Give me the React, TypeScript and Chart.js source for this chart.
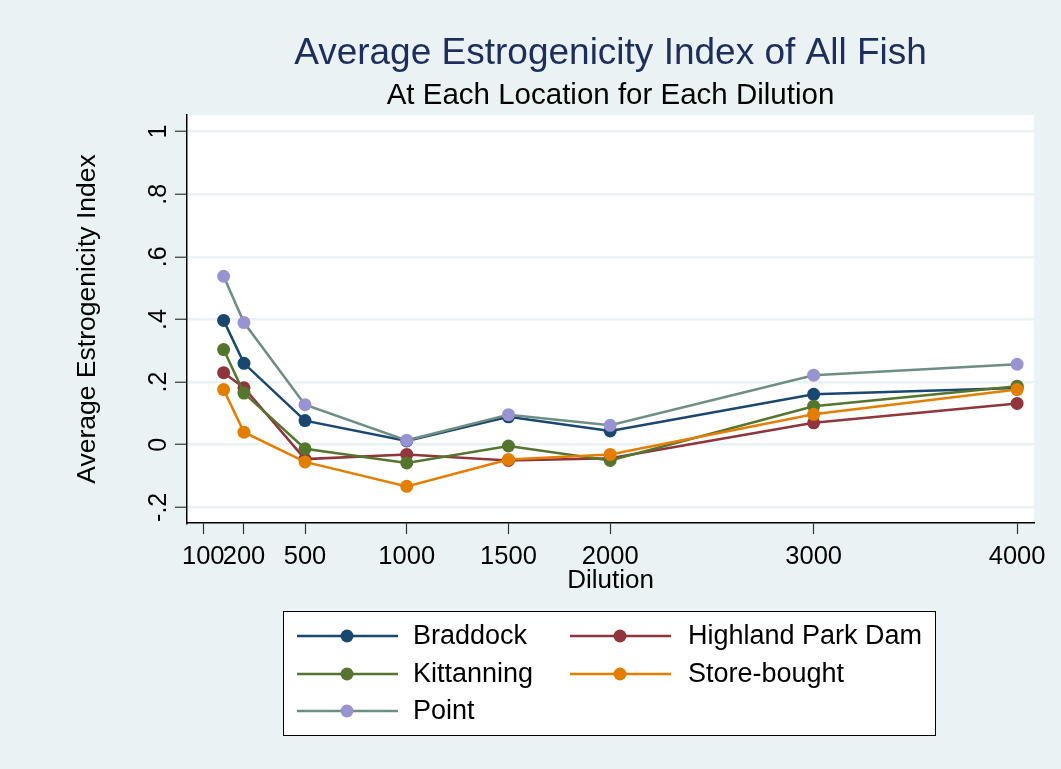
import { useEffect, useRef } from "react";
import { Chart, registerables, type Plugin } from "chart.js";

Chart.register(...registerables);

// dilutions where the fish were sampled
const DILUTIONS = [100, 200, 500, 1000, 1500, 2000, 3000, 4000];

const BRADDOCK = [0.397, 0.26, 0.077, 0.012, 0.089, 0.044, 0.161, 0.181];
const HIGHLAND_PARK_DAM = [0.23, 0.182, -0.046, -0.031, -0.05, -0.043, 0.07, 0.132];
const KITTANNING = [0.304, 0.165, -0.013, -0.058, -0.004, -0.05, 0.123, 0.187];
const STORE_BOUGHT = [0.176, 0.04, -0.055, -0.133, -0.047, -0.031, 0.097, 0.176];
const POINT = [0.538, 0.39, 0.128, 0.014, 0.096, 0.062, 0.222, 0.257];

// axis labels (Stata put the "100" label at 0)
const X_TICKS = [0, 200, 500, 1000, 1500, 2000, 3000, 4000];
const X_TICK_LABELS = ["100", "200", "500", "1000", "1500", "2000", "3000", "4000"];
const Y_TICKS = [-0.2, 0, 0.2, 0.4, 0.6, 0.8, 1];
const Y_TICK_LABELS = ["-.2", "0", ".2", ".4", ".6", ".8", "1"];

const SERIES = [
  { label: "Braddock", values: BRADDOCK, line: "#1a476f", marker: "#1a476f" },
  { label: "Highland Park Dam", values: HIGHLAND_PARK_DAM, line: "#90353b", marker: "#90353b" },
  { label: "Kittanning", values: KITTANNING, line: "#55752f", marker: "#55752f" },
  { label: "Store-bought", values: STORE_BOUGHT, line: "#e37e00", marker: "#e37e00" },
  { label: "Point", values: POINT, line: "#6e8e84", marker: "#9a93d2" },
];

const FONT = '"Liberation Sans", Arial, sans-serif';
const BG = "#eaf2f3";

const decorations: Plugin<"line"> = {
  id: "stataDecor",
  beforeDraw(chart) {
    const { ctx, chartArea: a } = chart;
    ctx.save();
    ctx.fillStyle = BG;
    ctx.fillRect(0, 0, chart.width, chart.height);
    ctx.fillStyle = "#fff";
    ctx.fillRect(a.left, a.top, a.right - a.left, a.bottom - a.top);
    ctx.restore();
  },
  afterDraw(chart) {
    const { ctx, chartArea: a } = chart;
    const cx = (a.left + a.right) / 2;
    const yScale = chart.scales.y;
    ctx.save();

    // titles
    ctx.textAlign = "center";
    ctx.textBaseline = "alphabetic";
    ctx.fillStyle = "#1e2d5c";
    ctx.font = `37px ${FONT}`;
    ctx.fillText("Average Estrogenicity Index of All Fish", cx, 64);
    ctx.fillStyle = "#000";
    ctx.font = `29.5px ${FONT}`;
    ctx.fillText("At Each Location for Each Dilution", cx, 104);

    // x title
    ctx.font = `26px ${FONT}`;
    ctx.fillText("Dilution", cx, 588);

    // y tick labels, rotated like Stata
    ctx.font = `25px ${FONT}`;
    Y_TICKS.forEach((v, i) => {
      const py = yScale.getPixelForValue(v);
      ctx.save();
      ctx.translate(166, py);
      ctx.rotate(-Math.PI / 2);
      ctx.fillText(Y_TICK_LABELS[i], 0, 0);
      ctx.restore();
    });

    // y title
    ctx.font = `26.5px ${FONT}`;
    ctx.save();
    ctx.translate(95, (a.top + a.bottom) / 2);
    ctx.rotate(-Math.PI / 2);
    ctx.fillText("Average Estrogenicity Index", 0, 0);
    ctx.restore();

    // legend, two columns
    ctx.fillStyle = "#fff";
    ctx.fillRect(283, 611, 652, 124);
    ctx.strokeStyle = "#000";
    ctx.lineWidth = 1;
    ctx.strokeRect(283.5, 611.5, 652, 124);
    const colX = [297, 570];
    const textX = [413, 688];
    const rowY = [636, 674, 711];
    ctx.font = `27px ${FONT}`;
    ctx.textAlign = "left";
    ctx.textBaseline = "middle";
    chart.data.datasets.forEach((ds, i) => {
      const col = i % 2;
      const row = Math.floor(i / 2);
      const y = rowY[row];
      ctx.strokeStyle = ds.borderColor as string;
      ctx.lineWidth = 2.5;
      ctx.beginPath();
      ctx.moveTo(colX[col], y);
      ctx.lineTo(colX[col] + 101, y);
      ctx.stroke();
      ctx.fillStyle = ds.pointBackgroundColor as string;
      ctx.beginPath();
      ctx.arc(colX[col] + 50, y, 6.5, 0, Math.PI * 2);
      ctx.fill();
      ctx.fillStyle = "#000";
      ctx.fillText(ds.label ?? "", textX[col], y + 1);
    });

    ctx.restore();
  },
};

export default function App() {
  const canvasRef = useRef<HTMLCanvasElement>(null);

  useEffect(() => {
    if (!canvasRef.current) return;
    const chart = new Chart(canvasRef.current, {
      type: "line",
      data: {
        datasets: SERIES.map((s, i) => ({
          label: s.label,
          data: DILUTIONS.map((d, j) => ({ x: d, y: s.values[j] })),
          borderColor: s.line,
          backgroundColor: s.marker,
          pointBackgroundColor: s.marker,
          pointBorderColor: s.marker,
          pointBorderWidth: 0,
          pointRadius: 6.5,
          borderWidth: 2.5,
          tension: 0,
          order: SERIES.length - i,
        })),
      },
      options: {
        responsive: false,
        animation: false,
        devicePixelRatio: 1,
        layout: { padding: { top: 115, right: 27, bottom: 0, left: 0 } },
        plugins: {
          legend: { display: false },
          title: { display: false },
          tooltip: { enabled: false },
        },
        scales: {
          x: {
            type: "linear",
            min: -80,
            max: 4083,
            afterBuildTicks: (scale) => {
              scale.ticks = X_TICKS.map((v) => ({ value: v }));
            },
            afterFit: (scale) => {
              scale.height = 246;
            },
            ticks: {
              autoSkip: false,
              maxRotation: 0,
              minRotation: 0,
              padding: 8,
              color: "#000",
              font: { family: FONT, size: 25.5 },
              callback: (v) => X_TICK_LABELS[X_TICKS.indexOf(Number(v))] ?? "",
            },
            grid: {
              drawOnChartArea: false,
              tickLength: 11,
              tickColor: "#333",
              tickWidth: 1.2,
            },
            border: { color: "#000", width: 1.5 },
          },
          y: {
            type: "linear",
            min: -0.25,
            max: 1.053,
            afterBuildTicks: (scale) => {
              scale.ticks = Y_TICKS.map((v) => ({ value: v }));
            },
            afterFit: (scale) => {
              scale.width = 187;
            },
            ticks: { display: false },
            grid: {
              color: BG,
              lineWidth: 2.5,
              tickLength: 12,
              tickColor: "#333",
              tickWidth: 1.2,
            },
            border: { color: "#000", width: 1.5 },
          },
        },
      },
      plugins: [decorations],
    });
    return () => chart.destroy();
  }, []);

  return (
    <div style={{ position: "fixed", left: 0, top: 0, width: 1061, height: 769, background: BG }}>
      <canvas ref={canvasRef} width={1061} height={769} style={{ width: 1061, height: 769 }} />
    </div>
  );
}
